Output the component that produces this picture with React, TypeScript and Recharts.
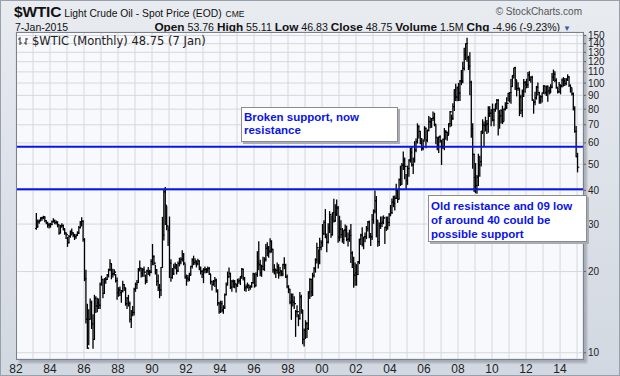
import React from 'react';
import {
  ComposedChart,
  Bar,
  Scatter,
  XAxis,
  YAxis,
  CartesianGrid,
  ReferenceLine,
} from 'recharts';

// monthly bars, March 1983 .. January 2015
const FIRST_YEAR = 1983;
const FIRST_MONTH = 2; // March
const FIRST_OPEN = 28.9;

const highs: number[] = [
  33.0, 31.2, 31.2, 31.8, 31.9, 32.2, 32.0, 31.0, 30.6, 30.3, // 83
  30.3, 30.9, 31.5, 31.2, 30.9, 30.7, 29.8, 29.8, 30.2, 29.9, 28.9, 27.9, // 84
  26.9, 27.3, 28.4, 28.9, 28.0, 27.6, 27.5, 28.2, 29.5, 30.8, 31.8, 31.0, // 85
  26.6, 20.3, 15.2, 14.5, 15.9, 15.6, 13.9, 16.4, 16.2, 16.0, 15.9, 18.2, // 86
  19.3, 18.7, 18.9, 19.1, 19.6, 20.5, 22.2, 21.4, 20.5, 20.4, 19.6, 19.0, // 87
  17.5, 17.6, 17.1, 18.5, 18.0, 17.4, 16.1, 16.4, 15.5, 14.4, 14.9, 17.4, // 88
  18.2, 18.6, 20.6, 22.0, 20.6, 20.6, 20.9, 19.5, 20.3, 20.8, 20.3, 22.2, // 89
  25.3, 23.0, 21.2, 20.4, 19.5, 18.0, 20.8, 31.9, 40.4, 41.2, 35.0, 29.4, // 90
  32.0, 22.2, 20.6, 21.4, 21.6, 21.3, 21.8, 22.5, 22.6, 24.0, 23.4, 21.4, // 91
  19.5, 19.4, 19.8, 21.0, 22.4, 22.9, 22.4, 21.9, 22.3, 22.0, 20.9, 20.3, // 92
  20.6, 20.9, 20.6, 20.9, 20.8, 19.6, 18.4, 18.6, 19.1, 18.8, 17.2, 15.4, // 93
  15.6, 15.6, 15.0, 16.6, 18.2, 20.0, 20.7, 19.8, 18.6, 18.7, 18.6, 18.0, // 94
  18.8, 18.9, 19.2, 20.6, 20.5, 19.1, 17.9, 18.2, 17.9, 17.8, 18.3, 19.8, // 95
  19.7, 19.9, 23.8, 25.9, 22.1, 21.2, 22.7, 22.6, 25.3, 25.7, 24.9, 26.6, // 96
  26.1, 24.2, 21.3, 20.4, 21.6, 21.3, 20.8, 20.2, 21.4, 22.6, 21.4, 19.5, // 97
  17.8, 17.2, 16.6, 16.6, 16.2, 14.4, 15.0, 13.9, 16.8, 16.4, 14.4, 12.3, // 98
  13.2, 13.0, 16.9, 18.9, 18.8, 19.8, 20.8, 22.4, 25.6, 24.2, 26.7, 26.1, // 99
  30.0, 31.0, 34.1, 27.7, 30.2, 33.5, 32.3, 33.1, 37.2, 35.5, 37.0, 35.0, // 00
  32.2, 31.0, 29.0, 28.6, 29.9, 29.6, 27.9, 28.6, 30.0, 23.8, 22.7, 21.6, // 01
  21.3, 21.9, 26.5, 27.6, 29.2, 26.9, 27.9, 29.5, 30.8, 30.9, 27.8, 32.7, // 02
  34.0, 39.99, 38.1, 31.0, 30.4, 32.0, 32.0, 32.3, 29.3, 32.0, 32.0, 33.0, // 03
  35.3, 37.3, 38.2, 38.3, 42.3, 40.0, 44.3, 49.4, 50.5, 55.7, 53.0, 46.0, // 04
  49.4, 52.2, 57.6, 58.3, 53.0, 60.9, 62.3, 70.9, 69.8, 66.3, 62.5, 61.9, // 05
  69.2, 68.4, 67.3, 75.4, 74.7, 74.2, 78.4, 77.6, 70.0, 62.8, 63.3, 64.0, // 06
  61.6, 62.3, 68.1, 66.9, 66.0, 70.9, 78.8, 76.4, 84.1, 94.8, 99.3, 97.0, // 07
  100.1, 102.6, 111.8, 119.9, 135.1, 140.4, 147.3, 126.2, 130.0, 102.0, 71.0, 54.7, // 08
  50.5, 45.6, 54.7, 53.8, 66.4, 73.4, 72.0, 75.0, 73.0, 82.0, 82.0, 80.0, // 09
  83.9, 80.5, 83.8, 87.2, 87.2, 79.4, 80.0, 82.4, 80.4, 84.9, 88.6, 92.0, // 10
  92.6, 103.4, 106.9, 113.9, 114.8, 102.4, 100.6, 95.5, 90.5, 94.6, 103.4, 101.7, // 11
  103.7, 109.8, 110.6, 106.0, 106.4, 86.1, 92.9, 97.6, 100.4, 92.8, 90.0, 92.2, // 12
  98.2, 97.8, 97.8, 97.9, 96.9, 99.0, 108.9, 112.2, 110.7, 104.1, 95.9, 100.8, // 13
  98.3, 103.9, 105.2, 104.5, 104.5, 107.7, 105.8, 98.6, 95.7, 92.2, 82.1, 69.3, // 14
  55.11, // 15
];

const lows: number[] = [
  28.7, 29.2, 30.2, 30.8, 31.0, 31.4, 30.6, 30.1, 29.2, 29.0, // 83
  29.2, 29.8, 30.5, 30.1, 30.0, 29.3, 27.5, 27.8, 29.2, 28.5, 27.5, 26.5, // 84
  24.8, 25.5, 26.8, 27.3, 26.9, 26.3, 26.6, 27.2, 27.7, 29.0, 29.5, 25.9, // 85
  18.5, 12.9, 10.4, 10.7, 13.4, 12.3, 10.4, 11.2, 14.1, 14.2, 14.6, 14.6, // 86
  17.8, 16.0, 16.6, 18.1, 18.7, 19.1, 20.2, 18.8, 19.1, 19.4, 18.3, 15.8, // 87
  16.2, 16.3, 15.4, 16.8, 17.0, 15.0, 14.6, 14.9, 13.0, 12.4, 13.7, 13.8, // 88
  16.9, 17.3, 18.2, 20.1, 19.1, 19.2, 19.2, 18.0, 18.2, 19.5, 19.3, 19.8, // 89
  21.2, 21.2, 19.6, 17.8, 17.0, 16.0, 16.3, 20.8, 26.2, 29.9, 28.6, 25.0, // 90
  19.0, 18.4, 18.9, 19.5, 20.5, 19.6, 20.0, 21.0, 21.4, 21.9, 21.2, 18.9, // 91
  17.8, 18.4, 18.5, 19.4, 20.6, 21.2, 21.3, 20.8, 21.2, 20.3, 19.6, 19.0, // 92
  18.2, 19.8, 19.8, 19.9, 19.5, 18.0, 17.1, 17.8, 17.6, 16.8, 15.0, 14.0, // 93
  14.1, 14.2, 14.0, 14.6, 16.4, 17.8, 19.1, 17.3, 16.9, 17.5, 17.4, 16.8, // 94
  17.6, 18.1, 17.9, 18.9, 18.6, 17.0, 16.9, 17.4, 17.0, 17.2, 17.5, 18.1, // 95
  17.5, 17.7, 19.2, 20.3, 19.3, 19.2, 20.3, 20.2, 21.9, 22.9, 22.6, 23.5, // 96
  23.6, 19.9, 19.6, 19.0, 19.7, 18.9, 19.3, 19.3, 19.3, 20.5, 19.0, 17.4, // 97
  16.7, 15.2, 13.3, 14.9, 14.6, 11.5, 13.6, 12.6, 13.3, 14.0, 10.8, 10.6, // 98
  11.3, 11.4, 12.2, 15.9, 16.2, 16.3, 19.1, 19.9, 21.5, 20.6, 21.4, 24.1, // 99
  24.8, 27.5, 26.7, 23.7, 25.5, 27.9, 26.8, 27.3, 30.5, 30.7, 32.3, 25.7, // 00
  26.0, 26.7, 25.7, 25.4, 26.9, 26.0, 24.9, 25.9, 21.6, 20.7, 17.5, 17.8, // 01
  17.8, 19.5, 21.4, 25.2, 24.9, 24.3, 25.8, 26.5, 28.3, 26.7, 25.0, 26.3, // 02
  30.2, 33.0, 26.9, 24.8, 25.0, 28.9, 29.4, 30.1, 25.4, 28.4, 28.7, 29.6, // 03
  32.2, 32.8, 34.8, 33.8, 37.3, 36.1, 37.2, 41.7, 42.3, 47.8, 44.2, 40.3, // 04
  42.1, 45.1, 50.9, 49.2, 46.2, 50.9, 55.6, 59.9, 62.6, 59.5, 56.3, 56.6, // 05
  61.8, 57.6, 60.6, 66.6, 68.3, 68.5, 72.6, 69.4, 59.5, 56.6, 55.3, 60.3, // 06
  49.9, 57.2, 56.6, 61.9, 61.4, 64.4, 68.8, 69.4, 73.3, 79.1, 86.2, 86.0, // 07
  86.1, 86.1, 98.6, 100.2, 111.8, 122.2, 120.4, 112.2, 90.5, 63.0, 48.3, 39.6, // 08
  39.2, 39.0, 41.7, 45.1, 49.3, 65.0, 58.3, 66.4, 65.0, 65.7, 75.1, 69.5, // 09
  72.4, 69.5, 78.6, 80.2, 64.2, 68.0, 71.1, 70.8, 72.6, 79.4, 80.5, 85.9, // 10
  85.1, 84.1, 97.4, 104.3, 94.6, 89.6, 94.0, 75.7, 77.1, 74.95, 89.2, 92.5, // 11
  96.0, 96.3, 102.1, 100.7, 86.4, 77.3, 83.0, 87.2, 90.2, 84.1, 84.1, 85.1, // 12
  91.9, 91.0, 89.9, 85.6, 91.1, 92.3, 96.1, 102.2, 101.0, 95.6, 91.8, 92.4, // 13
  91.2, 96.6, 97.4, 97.9, 98.5, 102.3, 97.0, 92.5, 90.3, 79.4, 65.7, 53.3, // 14
  46.83, // 15
];

const closes: number[] = [
  29.3, 30.6, 30.9, 31.6, 31.7, 31.9, 30.9, 30.4, 29.8, 29.6, // 83
  29.9, 30.6, 30.8, 30.4, 30.5, 29.8, 27.8, 29.5, 29.6, 28.8, 27.8, 27.4, // 84
  25.6, 27.0, 28.2, 27.8, 27.3, 26.9, 27.3, 27.8, 29.1, 30.3, 30.7, 26.3, // 85
  18.8, 13.3, 10.4, 13.3, 15.4, 12.8, 11.2, 15.9, 14.9, 15.3, 15.0, 17.9, // 86
  18.7, 16.6, 18.8, 18.7, 19.4, 20.3, 21.4, 19.6, 19.6, 19.9, 18.5, 16.7, // 87
  17.1, 16.7, 16.9, 17.9, 17.4, 15.2, 15.9, 15.2, 13.3, 13.9, 14.1, 17.2, // 88
  17.9, 18.2, 20.3, 20.6, 19.7, 20.3, 19.9, 18.5, 20.1, 19.9, 19.9, 21.8, // 89
  22.7, 21.5, 20.3, 18.4, 17.4, 17.1, 20.7, 27.3, 39.5, 35.2, 29.5, 28.4, // 90
  21.5, 19.0, 19.6, 20.8, 21.2, 20.1, 21.4, 21.7, 22.2, 23.3, 21.5, 19.1, // 91
  18.9, 18.7, 19.4, 20.9, 22.1, 21.6, 21.9, 21.4, 21.9, 20.6, 20.0, 19.5, // 92
  20.3, 20.4, 20.3, 20.5, 19.6, 18.4, 17.9, 18.4, 18.6, 16.9, 15.3, 14.2, // 93
  15.2, 14.4, 14.7, 16.4, 17.9, 19.1, 19.7, 17.5, 18.4, 18.2, 18.0, 17.8, // 94
  18.4, 18.5, 19.2, 20.4, 18.9, 17.4, 17.6, 17.8, 17.5, 17.6, 18.2, 19.6, // 95
  17.7, 19.5, 21.5, 21.2, 19.8, 20.9, 20.4, 22.2, 24.4, 23.4, 23.8, 25.9, // 96
  24.2, 20.3, 20.4, 20.2, 20.8, 19.8, 20.1, 19.6, 21.2, 21.1, 19.1, 17.6, // 97
  17.2, 15.4, 15.6, 15.4, 15.2, 14.2, 14.2, 13.4, 16.1, 14.4, 11.2, 12.1, // 98
  12.8, 12.3, 16.8, 18.7, 16.8, 19.3, 20.5, 22.1, 24.5, 21.8, 24.6, 25.6, // 99
  27.6, 30.4, 26.9, 25.7, 29.0, 32.5, 27.4, 33.1, 30.8, 32.7, 34.4, 26.8, // 00
  28.7, 27.4, 26.3, 28.5, 28.4, 26.3, 26.4, 27.2, 23.4, 21.2, 19.4, 19.8, // 01
  19.5, 21.7, 26.3, 27.3, 25.3, 26.9, 27.0, 28.9, 30.5, 27.2, 26.9, 31.2, // 02
  33.5, 36.6, 31.0, 25.8, 29.6, 30.2, 30.5, 31.6, 29.2, 29.1, 30.4, 32.5, // 03
  33.1, 36.2, 35.8, 37.4, 39.9, 37.1, 43.8, 42.1, 49.6, 51.8, 49.1, 43.5, // 04
  48.2, 51.8, 55.4, 49.7, 52.0, 56.5, 60.6, 68.9, 66.2, 59.8, 57.3, 61.0, // 05
  67.9, 61.4, 66.6, 71.9, 71.3, 73.9, 74.4, 70.3, 62.9, 58.7, 63.1, 61.1, // 06
  58.1, 61.8, 65.9, 65.7, 64.0, 70.7, 78.2, 74.0, 81.7, 94.5, 88.7, 96.0, // 07
  91.8, 101.8, 101.6, 113.5, 127.4, 140.0, 124.1, 115.5, 100.6, 67.8, 54.4, 44.6, // 08
  41.7, 44.8, 49.7, 51.1, 66.3, 69.9, 69.5, 70.0, 70.6, 77.0, 77.3, 79.4, // 09
  72.9, 79.7, 83.8, 86.2, 74.0, 75.6, 79.0, 71.9, 80.0, 81.4, 84.1, 91.4, // 10
  92.2, 97.0, 106.7, 113.9, 102.7, 95.4, 95.7, 88.8, 79.2, 93.2, 100.4, 98.8, // 11
  98.5, 107.1, 103.0, 104.9, 86.5, 85.0, 88.1, 96.5, 92.2, 86.2, 88.9, 91.8, // 12
  97.5, 92.1, 97.2, 93.5, 92.0, 96.6, 105.0, 107.7, 102.3, 96.4, 92.7, 98.4, // 13
  97.5, 102.6, 101.6, 99.7, 102.7, 105.4, 98.2, 96.0, 91.2, 80.5, 66.2, 53.3, // 14
  48.75, // 15
];

const yearTicks = [
  1982, 1983, 1984, 1985, 1986, 1987, 1988, 1989, 1990, 1991, 1992, 1993,
  1994, 1995, 1996, 1997, 1998, 1999, 2000, 2001, 2002, 2003, 2004, 2005,
  2006, 2007, 2008, 2009, 2010, 2011, 2012, 2013, 2014, 2015,
];
const priceTicks = [10, 20, 30, 40, 50, 60, 70, 80, 90, 100, 110, 120, 130, 140, 150];
const supportLevels = [58, 40.4];

const BLUE = '#0a14e8';
const FONT = '"Liberation Sans", Arial, sans-serif';

const bars = closes.map((c, i) => ({
  t: FIRST_YEAR + (FIRST_MONTH + i + 0.5) / 12,
  range: [lows[i], highs[i]],
  o: i === 0 ? FIRST_OPEN : closes[i - 1],
  c,
}));

const HighLow = (props: any) => {
  const { x, y, width, height } = props;
  if (x == null || y == null) return null;
  const cx = x + width / 2;
  const top = Math.min(y, y + height);
  const bottom = Math.max(y, y + height);
  return <line x1={cx} x2={cx} y1={top} y2={bottom + 0.5} stroke="#000" strokeWidth={1.3} />;
};

const CloseTick = (props: any) => {
  const { cx, cy } = props;
  if (cx == null || cy == null) return null;
  return <line x1={cx} x2={cx + 1.6} y1={cy} y2={cy} stroke="#000" strokeWidth={1} />;
};

const OpenTick = (props: any) => {
  const { cx, cy } = props;
  if (cx == null || cy == null) return null;
  return <line x1={cx - 1.6} x2={cx} y1={cy} y2={cy} stroke="#000" strokeWidth={1} />;
};

const Note: React.FC<{ left: number; top: number; width: number; height: number; lineHeight: number; children: React.ReactNode }> = ({
  left, top, width, height, lineHeight, children,
}) => (
  <div
    style={{
      position: 'absolute',
      left,
      top,
      width,
      height,
      boxSizing: 'border-box',
      background: '#fff',
      border: '1px solid #8c8c8c',
      boxShadow: '2px 2px 0 #a9adb3',
      padding: '3px 0 0 2px',
      color: BLUE,
      fontFamily: FONT,
      fontWeight: 'bold',
      fontSize: 11.5,
      lineHeight: `${lineHeight}px`,
      whiteSpace: 'nowrap',
    }}
  >
    {children}
  </div>
);

const Lbl: React.FC<{ children: React.ReactNode }> = ({ children }) => (
  <b style={{ fontSize: 11.8 }}>{children}</b>
);

export default function App() {
  return (
    <div
      style={{
        position: 'absolute',
        left: 0,
        top: 0,
        width: 620,
        height: 376,
        overflow: 'hidden',
        boxSizing: 'border-box',
        border: '1px solid #97a0ab',
        background: 'linear-gradient(#e8ebf0, #d2d8e1)',
        fontFamily: FONT,
        color: '#111',
      }}
    >
      {/* header */}
      <div style={{ position: 'absolute', left: 13, top: 2, whiteSpace: 'nowrap', display: 'flex', alignItems: 'baseline' }}>
        <span style={{ fontSize: 15.5, fontWeight: 'bold', letterSpacing: -0.2 }}>$WTIC</span>
        <span style={{ fontSize: 10.3, marginLeft: 3 }}>Light Crude Oil - Spot Price (EOD)</span>
        <span style={{ fontSize: 8.5, marginLeft: 4 }}>CME</span>
      </div>
      <div style={{ position: 'absolute', right: 37, top: 5, fontSize: 10, color: '#555', whiteSpace: 'nowrap' }}>
        © StockCharts.com
      </div>
      <div style={{ position: 'absolute', left: 14, top: 20, fontSize: 10.5, whiteSpace: 'nowrap' }}>7-Jan-2015</div>
      <div style={{ position: 'absolute', right: 48, top: 19, fontSize: 10.6, whiteSpace: 'nowrap' }}>
        <Lbl>Open</Lbl> 53.76 <Lbl>High</Lbl> 55.11 <Lbl>Low</Lbl> 46.83 <Lbl>Close</Lbl> 48.75{' '}
        <Lbl>Volume</Lbl> 1.5M <Lbl>Chg</Lbl> -4.96 (-9.23%){' '}
        <span style={{ color: '#3a5fa0', fontSize: 8 }}>▼</span>
      </div>

      <div style={{ position: 'absolute', left: -1, top: -1 }}>
        <ComposedChart
          width={620}
          height={376}
          data={bars}
          margin={{ top: 32, right: 2, bottom: 0, left: 16 }}
        >
          <CartesianGrid fill="#f8f9fc" stroke="#d5d8de" strokeWidth={1} />
          <XAxis
            dataKey="t"
            type="number"
            domain={[1982, 2015.35]}
            ticks={yearTicks}
            interval={0}
            allowDataOverflow
            height={17}
            tickLine={false}
            axisLine={false}
            tickSize={3}
            tickMargin={2}
            tickFormatter={(v: number) => (v % 2 === 0 ? String(v).slice(2) : '')}
            tick={{ fill: '#222', fontSize: 12, fontFamily: FONT }}
          />
          <YAxis
            orientation="right"
            scale="log"
            domain={[9.48, 154.6]}
            ticks={priceTicks}
            interval={0}
            allowDataOverflow
            width={35}
            axisLine={false}
            tickLine={{ stroke: '#666' }}
            tickSize={3}
            tickMargin={2}
            tick={{ fill: '#222', fontSize: 10, fontFamily: FONT }}
          />
          <Bar dataKey="range" barSize={1} shape={<HighLow />} isAnimationActive={false} />
          <Scatter dataKey="o" shape={<OpenTick />} isAnimationActive={false} />
          <Scatter dataKey="c" shape={<CloseTick />} isAnimationActive={false} />
          {supportLevels.map((v) => (
            <ReferenceLine key={v} y={v} stroke={BLUE} strokeWidth={2} ifOverflow="hidden" />
          ))}
        </ComposedChart>
      </div>

      {/* plot frame */}
      <div
        style={{
          position: 'absolute',
          left: 15,
          top: 31,
          width: 568,
          height: 328,
          boxSizing: 'border-box',
          border: '1px solid #7b818a',
          boxShadow: '3px 3px 2px rgba(80,90,105,0.35)',
          pointerEvents: 'none',
        }}
      />

      {/* legend */}
      <div style={{ position: 'absolute', left: 17, top: 33, display: 'flex', alignItems: 'center', whiteSpace: 'nowrap' }}>
        <svg width={12} height={10}>
          <line x1={2} x2={2} y1={1} y2={9} stroke="#333" />
          <line x1={0} x2={2} y1={3} y2={3} stroke="#333" />
          <line x1={2} x2={4} y1={7} y2={7} stroke="#333" />
          <line x1={8} x2={8} y1={2} y2={9} stroke="#333" />
          <line x1={6} x2={8} y1={7} y2={7} stroke="#333" />
          <line x1={8} x2={10} y1={3} y2={3} stroke="#333" />
        </svg>
        <span style={{ fontFamily: '"DejaVu Sans", sans-serif', fontSize: 11.5, marginLeft: 2, color: '#222' }}>
          $WTIC (Monthly) 48.75 (7 Jan)
        </span>
      </div>

      <Note left={240} top={106} width={157} height={35} lineHeight={13}>
        Broken support, now
        <br />
        resistance
      </Note>
      <Note left={427} top={194} width={159} height={47} lineHeight={14}>
        Old resistance and 09 low
        <br />
        of around 40 could be
        <br />
        possible support
      </Note>
    </div>
  );
}
